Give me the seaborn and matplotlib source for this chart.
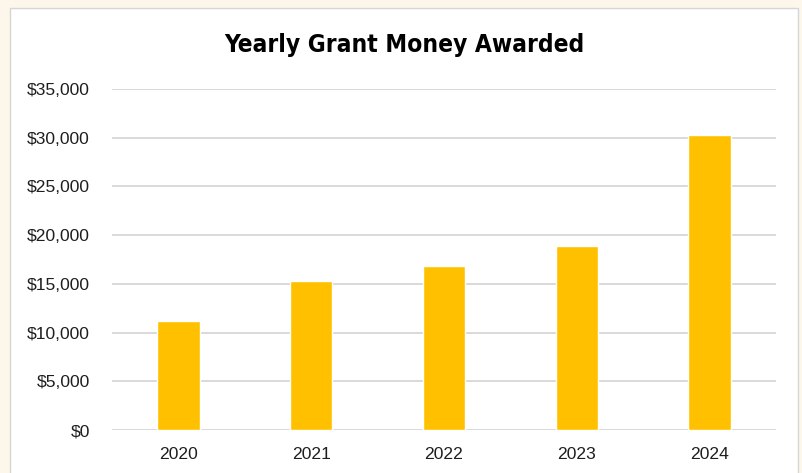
import matplotlib
matplotlib.use("Agg")
import matplotlib.pyplot as plt
import matplotlib.patches as mpatches
import matplotlib.ticker as mticker
import pandas as pd
import seaborn as sns

years = ["2020", "2021", "2022", "2023", "2024"]
grant_money = [11200, 15300, 16800, 18900, 30300]

sns.set_theme(style="white")
plt.rcParams["font.family"] = ["Liberation Sans", "DejaVu Sans"]

df = pd.DataFrame({"year": years, "amount": grant_money})

fig = plt.figure(figsize=(8.03, 4.73), dpi=100)
fig.patch.set_facecolor("#fdf6ea")
# white chart panel with a thin grey border, kept behind the axes
panel = mpatches.Rectangle((10 / 803, -0.05), 788 / 803, 1.05 - 8 / 473,
                           transform=fig.transFigure, facecolor="white",
                           edgecolor="#d6d6d6", linewidth=1.0, zorder=-10)
fig.patches.append(panel)

ax = fig.add_axes([0.1395, 0.0909, 0.8269, 0.7209])
ax.set_facecolor("none")
sns.barplot(data=df, x="year", y="amount", color="#ffc000", width=0.32,
            saturation=1, ax=ax, zorder=3)

ax.set_ylim(0, 35000)
ax.set_xlim(-0.5, 4.5)
ax.yaxis.set_major_locator(mticker.MultipleLocator(5000))
ax.yaxis.set_major_formatter(mticker.FuncFormatter(lambda v, p: f"${v:,.0f}"))
ax.grid(axis="y", color="#d9d9d9", linewidth=1.4, zorder=0)
ax.set_axisbelow(True)
for s in ax.spines.values():
    s.set_visible(False)
ax.set_xlabel("")
ax.set_ylabel("")
ax.tick_params(axis="both", length=0, labelsize=12.6, colors="#1e1e1e")
ax.tick_params(axis="y", pad=16)
ax.tick_params(axis="x", pad=12)

fig.text(0.504, 0.905, "Yearly Grant Money Awarded", ha="center", va="center",
         fontsize=17.6, fontweight="bold", color="black", fontstretch="condensed",
         family=["Liberation Sans Narrow", "DejaVu Sans"])

fig.savefig("out.png", dpi=100, facecolor=fig.get_facecolor())
